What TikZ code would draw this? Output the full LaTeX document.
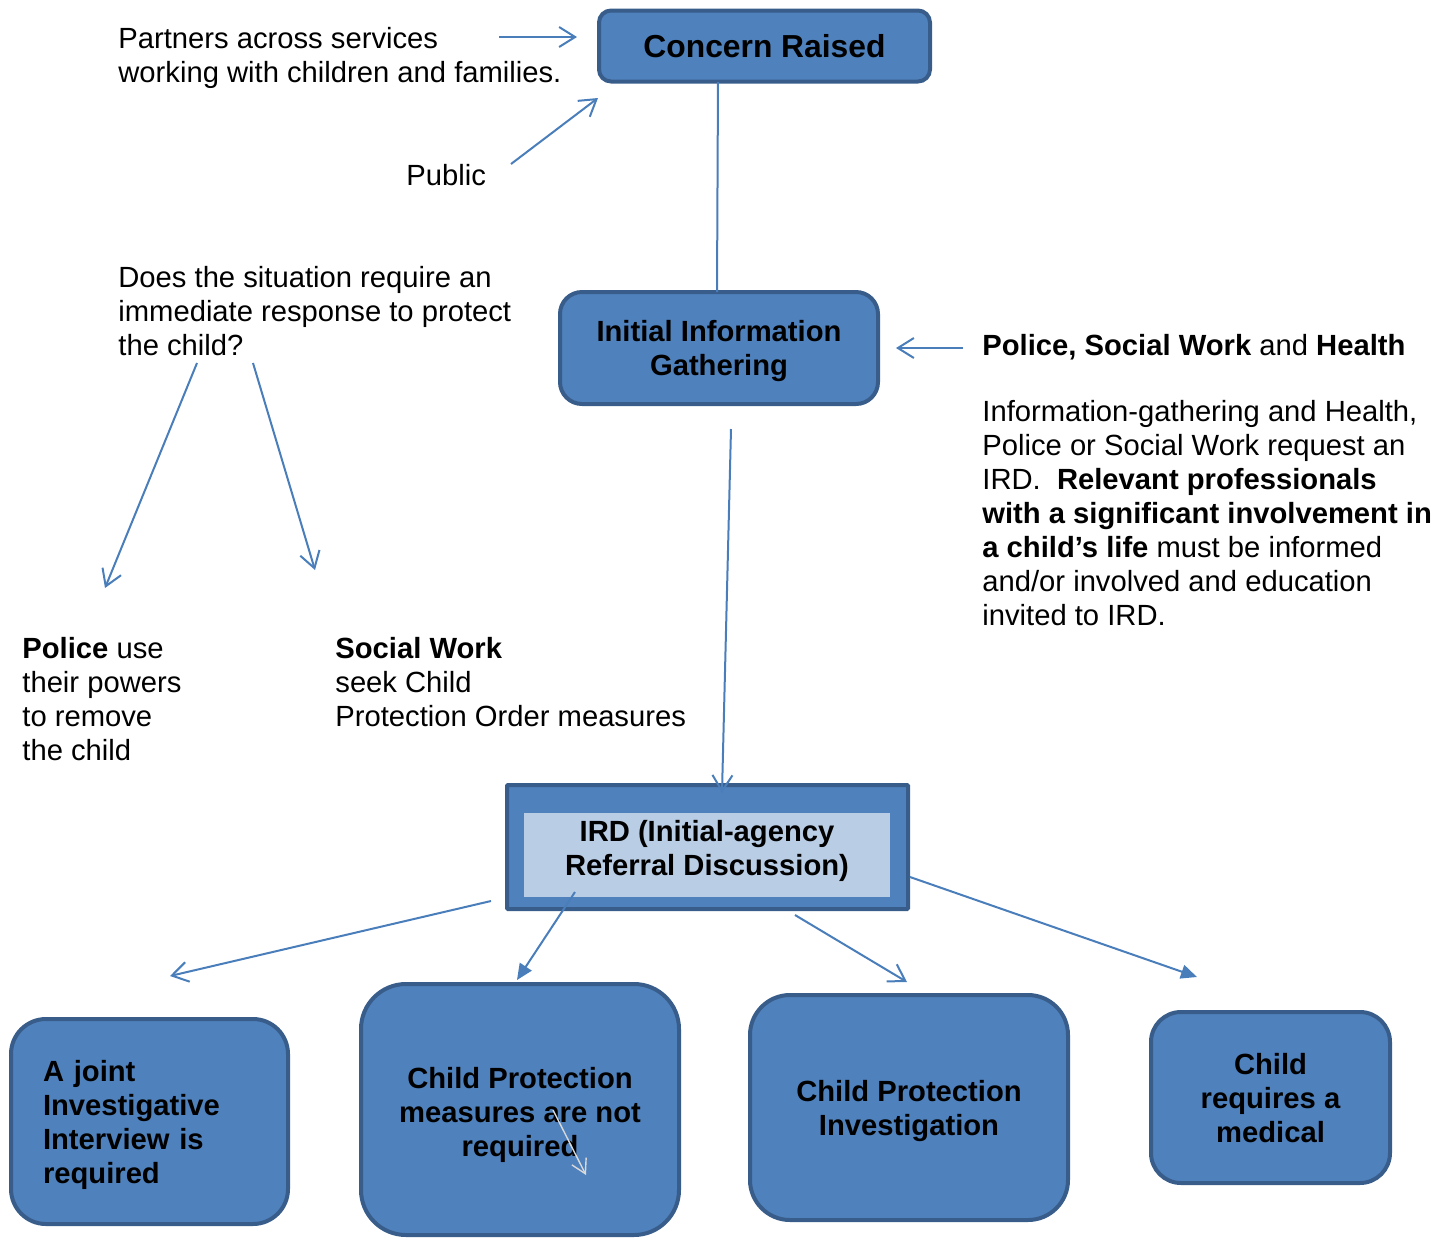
\documentclass[tikz,border=0pt]{standalone}
\usepackage{fontspec}
\setmainfont{Liberation Sans}
\usetikzlibrary{arrows.meta}
\definecolor{boxfill}{RGB}{79,129,189}
\definecolor{boxborder}{RGB}{56,93,138}
\definecolor{lineblue}{RGB}{74,126,187}
\definecolor{irdlight}{RGB}{185,205,229}
\definecolor{ghost}{RGB}{217,217,217}
\newcommand{\txtsize}{\fontsize{14.6pt}{17pt}\selectfont}
\begin{document}
\begin{tikzpicture}[x=0.5pt,y=-0.5pt,
  boxbase/.style={draw=boxborder, fill=boxfill, line width=2pt, font=\bfseries\txtsize, align=center, inner sep=0pt},
  box/.style={boxbase, text depth=0pt},
  conn/.style={draw=lineblue, line width=1pt},
  openhead/.style={conn, -{Straight Barb[length=8pt,width=10pt]}},
  fillhead/.style={conn, -{Triangle[length=8pt,width=7pt]}},
  plain/.style={font=\txtsize, align=left, inner sep=0pt, anchor=base west}
]
\useasboundingbox (0,0) rectangle (1448,1239);

% boxes
\node[box, minimum width=165.5pt, minimum height=35.5pt, rounded corners=6pt,
      font=\bfseries\fontsize{15.9pt}{18pt}\selectfont] (cr) at (764.5,46) {Concern Raised};
\node[box, minimum width=159pt, minimum height=56pt, rounded corners=11pt] (iig) at (719,348) {Initial Information\\Gathering};
\node[box, minimum width=200.5pt, minimum height=62pt, rounded corners=0.5pt] (ird) at (707.5,847) {};
\node[fill=irdlight, minimum width=183pt, minimum height=42pt, inner sep=0pt] (irdin) at (707,855) {};
\node[font=\bfseries\txtsize, align=center, inner sep=0pt, text depth=0pt] (irdtxt) at (707,847.5) {IRD (Initial-agency\\Referral Discussion)};
\node[boxbase, minimum width=138.5pt, minimum height=102.5pt, rounded corners=17.5pt, align=left,
      text width=106.5pt, inner xsep=16pt] (jii) at (149.5,1121.5) {\rule{0pt}{14.5pt}A joint\\Investigative\\Interview is\\required};
\node[box, minimum width=159pt, minimum height=125.5pt, rounded corners=22.5pt] (cpm) at (520,1109.5) {\rule{0pt}{12.5pt}Child Protection\\measures are not\\required};
\node[box, minimum width=159pt, minimum height=112.5pt, rounded corners=20pt] (cpi) at (909,1107.5) {Child Protection\\Investigation};
\node[box, minimum width=119.5pt, minimum height=85.5pt, rounded corners=15pt] (med) at (1270.5,1097.5) {Child\\requires a\\medical};

% free texts (anchored at the baseline of their last line)
\node[plain] (partners) at (118,82) {Partners across services\\working with children and families.};
\node[plain] (public) at (406,185) {Public};
\node[plain] (question) at (118,355) {Does the situation require an\\immediate response to protect\\the child?};
\node[plain] (police) at (22,760) {\textbf{Police} use\\their powers\\to remove\\the child};
\node[plain] (social) at (335,726) {\textbf{Social Work}\\seek Child\\Protection Order measures};
\node[plain] (rtitle) at (982,355) {\textbf{Police, Social Work} and \textbf{Health}};
\node[plain] (rbody) at (982,625) {Information-gathering and Health,\\Police or Social Work request an\\IRD.~~\textbf{Relevant professionals}\\\textbf{with a significant involvement in}\\\textbf{a child’s life} must be informed\\and/or involved and education\\invited to IRD.};

% connector ends
\coordinate (pa) at (499,37);   \coordinate (pb) at (577,37);
\coordinate (qa) at (511,164);  \coordinate (qb) at (598,98);
\coordinate (ca) at (718,82);   \coordinate (cb) at (717,292);
\coordinate (ra) at (963,348);  \coordinate (rb) at (896,348);
\coordinate (ia) at (731,429);  \coordinate (ib) at (722,793);
\coordinate (la) at (197,363);  \coordinate (lb) at (105,588);
\coordinate (sa) at (253,363);  \coordinate (sb) at (315,570);
\coordinate (d1a) at (491,901); \coordinate (d1b) at (170,976);
\coordinate (d2a) at (575,892); \coordinate (d2b) at (517,980);
\coordinate (d3a) at (795,915); \coordinate (d3b) at (907,982);
\coordinate (d4a) at (910,877); \coordinate (d4b) at (1197,977);
\coordinate (ga) at (553,1110); \coordinate (gb) at (586,1175);

\draw[openhead] (pa) -- (pb);
\draw[openhead] (qa) -- (qb);
\draw[conn] (ca) -- (cb);
\draw[openhead] (ra) -- (rb);
\draw[openhead] (ia) -- (ib);
\draw[openhead] (la) -- (lb);
\draw[openhead] (sa) -- (sb);
\draw[openhead] (d1a) -- (d1b);
\draw[fillhead] (d2a) -- (d2b);
\draw[openhead] (d3a) -- (d3b);
\draw[fillhead] (d4a) -- (d4b);
\draw[draw=ghost, line width=0.7pt, -{Straight Barb[length=7pt,width=8pt]}] (ga) -- (gb);
\end{tikzpicture}
\end{document}
